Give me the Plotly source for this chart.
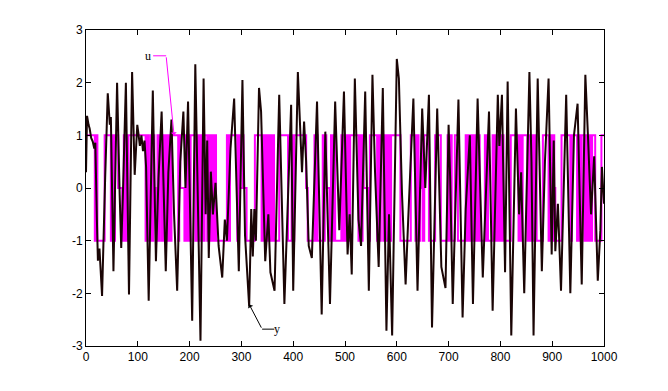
import plotly.graph_objects as go

# output y: sample index and value at turning points
y_t = [0, 2, 5, 7, 10, 13, 16, 18, 21, 23, 26, 31, 37, 42, 46, 48, 53, 60, 65, 68, 71, 77, 83, 89, 94, 99,
       101, 104, 107, 110, 113, 116, 121, 129, 135, 140, 146, 154, 159, 165, 170, 176, 182, 188, 192, 197,
       205, 211, 221, 227, 231, 234, 237, 241, 245, 250, 256, 263, 268, 272, 279, 286, 295, 302,
       307, 315, 319, 322, 325, 328, 334, 338, 346, 352, 356, 364, 373, 383, 396,
       400, 409, 414, 417, 421, 425, 430, 436, 446, 455, 462, 471, 481, 489, 498,
       505, 509, 513, 519, 526, 531, 539, 546, 553, 558, 565, 573, 580, 585, 591, 600,
       604, 610, 617, 622, 632, 640, 649, 655, 662, 668, 678, 686, 694, 700,
       703, 708, 719, 727, 733, 741, 747, 756, 766, 778, 785, 795, 798, 803,
       809, 814, 821, 830, 836, 840, 846, 856, 860, 864, 872, 880, 886, 893, 899,
       903, 906, 911, 917, 927, 935, 942, 949, 957, 964, 969, 975, 981, 988, 993, 996, 1000]
y_v = [0.3, 1.37, 1.2, 1.13, 0.95, 0.88, 0.75, 0.86, -0.6, -1.38, -1.15, -2.05, 0.2, 1.8, 1.2, 1.35, -1.58, 2.0, -0.13, -1.14, -0.2, 2.0, -2.02, 2.2, 0.25, 1.2,
       1.05, 0.8, 1.0, 0.7, 0.9, 0.4, -2.14, 1.85, -1.39, 0.2, 1.45, -1.58, 0.3, 1.3, -0.5, -1.95, 0.5, 1.45, 0.0, 1.64,
       -2.52, 2.35, -2.9, 2.08, -0.5, 0.9, -1.33, 0.31, -0.5, 0.1, -1.1, -1.7, -0.6, -1.0, 0.75, 1.7, -1.58, 2.05,
       -0.9, -2.25, -0.4, -1.3, -0.4, -1.0, 1.9, 1.45, -1.39, -0.5, -1.6, -1.95, 1.77, -2.2, 1.58,
       -1.95, 2.2, 1.1, 0.3, 1.26, 0.5, -1.1, -1.33, 1.64, -2.4, 1.07, -2.2, 1.64, -0.8, 1.83,
       -1.26, -0.5, -1.64, 2.08, -0.6, -1.1, 1.83, -1.95, 2.15, 0.3, -1.5, 1.9, -2.71, -0.5, -2.8, 2.45,
       2.08, -0.1, -1.83, -0.6, 1.7, -1.95, 1.51, 0.0, 1.77, -2.65, 1.51, -1.5, -1.9, 1.2,
       0.2, -2.2, 1.68, -2.46, -0.4, 1.0, -2.2, 1.7, -1.7, 1.45, -2.33, 1.77, 0.8, 1.77,
       -1.6, 2.02, -2.8, 1.51, -0.5, 0.3, -2.0, 2.2, 0.5, -2.8, 2.08, -1.58, 0.5, 2.08, -1.26,
       0.9, -1.2, -0.3, -1.95, 1.77, -2.0, 1.0, 1.6, -1.83, 2.15, 1.0, -0.5, 0.6, -1.76, -0.8, 0.4, -0.3]

# input u: sample where each level starts, and the level
u_t = [0, 17, 20, 22, 36, 48, 51, 53, 56, 62, 70, 73, 75, 78, 80, 82,
       115, 118, 120, 124, 127, 130, 132, 135, 138, 140, 142, 146, 149, 152, 155, 157, 160, 162, 165, 178, 180, 182, 190, 193, 195, 198, 200,
       202, 211, 213, 216, 218, 220, 223, 226, 229, 234, 237, 240, 243, 246, 249, 251, 272, 275, 278, 292, 295, 297,
       302, 304, 310, 326, 339, 342, 345, 348, 351, 354, 357, 360, 363, 373, 390,
       397, 400, 402, 425, 428, 441, 443, 445, 447, 457, 459, 461, 464, 470, 473, 476, 479, 481, 493, 496, 499, 502,
       505, 507, 510, 526, 529, 532, 534, 536, 545, 548, 562, 565, 567, 569, 574, 577, 580, 583, 586, 589,
       607, 627, 636, 639, 642, 645, 648, 650, 653, 662, 674, 685, 698,
       701, 703, 706, 712, 718, 733, 736, 739, 742, 745, 748, 751, 754, 757, 760, 770, 772, 774, 776, 785, 788, 791, 794, 797, 800, 803,
       806, 820, 835, 838, 841, 843, 852, 855, 858, 861, 864, 867, 870, 882, 893, 896, 899,
       902, 904, 906, 918, 935, 938, 948, 951, 954, 957, 962, 965, 968, 971, 974, 977, 983, 995, 1000]
u_v = [1, -1, 1, -1, 1, -1, 1, -1, 1, 0, -1, 1, -1, 1, -1, 1,
       -1, 1, -1, 1, -1, 1, 0, -1, 1, -1, 1, -1, 1, -1, 1, -1, 1, -1, 1, -1, 1, 0, -1, 1, -1, 1, -1,
       1, -1, 1, -1, 1, -1, 1, -1, 1, -1, 1, -1, 1, -1, 1, -1, 1, -1, 1, -1, 1, 0,
       1, 0, -1, 1, -1, 1, -1, 1, -1, 1, -1, 1, -1, 1, -1,
       1, -1, 1, 0, -1, 1, -1, 1, -1, 1, -1, 1, 0, -1, 1, -1, 1, -1, 1, -1, 1, -1,
       1, -1, 1, -1, 1, -1, 1, 0, -1, 1, -1, 1, -1, 1, -1, 1, -1, 1, -1, 1,
       -1, 1, -1, 1, -1, 0, 1, -1, 1, -1, 1, -1, 1,
       -1, 1, -1, 1, -1, 1, -1, 1, -1, 1, -1, 1, -1, 1, -1, 1, -1, 1, -1, 1, -1, 1, -1, 1, -1, 1,
       -1, 1, -1, 1, -1, 1, -1, 1, -1, 1, -1, 1, -1, 1, -1, 1, -1,
       1, 0, -1, 1, -1, 1, -1, 1, -1, 1, -1, 1, -1, 1, -1, 1, -1, 1, 1]

x_ticks = [0, 100, 200, 300, 400, 500, 600, 700, 800, 900, 1000]
y_ticks = [-3, -2, -1, 0, 1, 2, 3]

fig = go.Figure()
fig.add_trace(go.Scatter(x=u_t, y=u_v, mode='lines', line=dict(color='#ff00ff', width=2, shape='hv'),
                         hoverinfo='skip', showlegend=False))
fig.add_trace(go.Scatter(x=y_t, y=y_v, mode='lines', line=dict(color='#1a0505', width=2),
                         hoverinfo='skip', showlegend=False))

# label lines
fig.add_shape(type='line', xref='x', yref='y', x0=129.6, y0=2.51, x1=154.7, y1=2.51,
              line=dict(color='#ff00ff', width=1))
fig.add_shape(type='line', xref='x', yref='y', x0=340, y0=-2.68, x1=363.6, y1=-2.68,
              line=dict(color='black', width=1))
fig.add_annotation(x=170, y=1.0, ax=154.7, ay=2.51, axref='x', ayref='y', xref='x', yref='y',
                   text='', showarrow=True, arrowhead=1, arrowsize=1, arrowwidth=1, arrowcolor='#ff00ff')
fig.add_annotation(x=315, y=-2.21, ax=340, ay=-2.68, axref='x', ayref='y', xref='x', yref='y',
                   text='', showarrow=True, arrowhead=1, arrowsize=1, arrowwidth=1, arrowcolor='black')
fig.add_annotation(x=120, y=2.51, xref='x', yref='y', text='u', showarrow=False, xanchor='center',
                   font=dict(family='Liberation Serif', size=12, color='black'))
fig.add_annotation(x=369, y=-2.68, xref='x', yref='y', text='y', showarrow=False, xanchor='center',
                   font=dict(family='Liberation Serif', size=12, color='black'))

axis_common = dict(showline=True, linecolor='black', linewidth=1, mirror='allticks', ticks='inside',
                   ticklen=5, tickcolor='black', showgrid=False, zeroline=False,
                   tickfont=dict(family='Liberation Sans', size=12, color='black'))
fig.update_xaxes(range=[0, 1000], tickvals=x_ticks, ticktext=[str(v) for v in x_ticks], **axis_common)
fig.update_yaxes(range=[-3, 3], tickvals=y_ticks, ticktext=[str(v) for v in y_ticks], **axis_common)
fig.update_layout(width=668, height=391, margin=dict(l=78, r=72, t=22, b=53),
                  paper_bgcolor='white', plot_bgcolor='white')
fig.write_html('out.html')
